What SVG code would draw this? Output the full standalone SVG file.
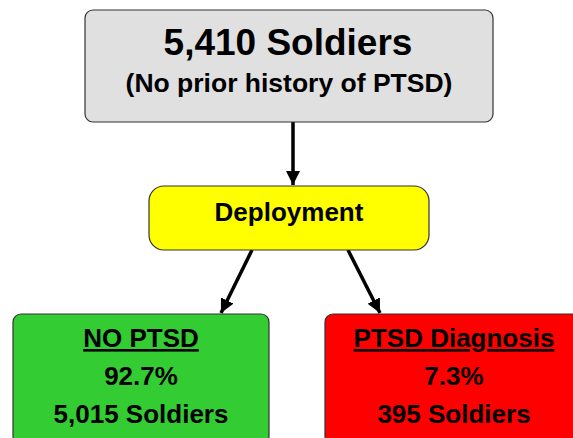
<svg xmlns="http://www.w3.org/2000/svg" width="573" height="438" viewBox="0 0 573 438">
<defs>
<style>
.box{stroke:#333;stroke-width:1.2}
.t{font-family:"Liberation Sans",Arial,sans-serif;font-weight:bold;fill:#000;text-anchor:middle}
.u{text-decoration:underline}
.c{stroke:#000;stroke-width:3.5;fill:none}
</style>
<marker id="ah" viewBox="0 0 10 10" refX="10" refY="5" markerWidth="4" markerHeight="4" orient="auto" markerUnits="strokeWidth">
<path d="M0,0 L10,5 L0,10 Z" fill="#000"/>
</marker>
</defs>
<rect width="573" height="438" fill="#fff"/>
<g id="connectors">
<line class="c" x1="293" y1="122" x2="293" y2="185" marker-end="url(#ah)"/>
<line class="c" x1="252" y1="250" x2="221" y2="313" marker-end="url(#ah)"/>
<line class="c" x1="348" y1="250" x2="380" y2="313" marker-end="url(#ah)"/>
</g>
<g id="soldiers">
<rect class="box" x="85" y="10" width="408" height="112" rx="8" fill="#e0e0e0"/>
<text class="t" x="288" y="55" font-size="37">5,410 Soldiers</text>
<text class="t" x="289" y="92" font-size="26.5">(No prior history of PTSD)</text>
</g>
<g id="deployment">
<rect class="box" x="149" y="186" width="280" height="64" rx="15" fill="#ffff00"/>
<text class="t" x="289" y="221" font-size="26">Deployment</text>
</g>
<g id="no-ptsd">
<rect class="box" x="13" y="314" width="256" height="130" rx="8" fill="#33cc33"/>
<text class="t u" x="141" y="347" font-size="26">NO PTSD</text>
<text class="t" x="141" y="385" font-size="26">92.7%</text>
<text class="t" x="141" y="423" font-size="26">5,015 Soldiers</text>
</g>
<g id="ptsd">
<rect class="box" x="325" y="314" width="258" height="130" rx="8" fill="#ff0000"/>
<text class="t u" x="454" y="347" font-size="26">PTSD Diagnosis</text>
<text class="t" x="454" y="385" font-size="26">7.3%</text>
<text class="t" x="454" y="423" font-size="26">395 Soldiers</text>
</g>
</svg>
